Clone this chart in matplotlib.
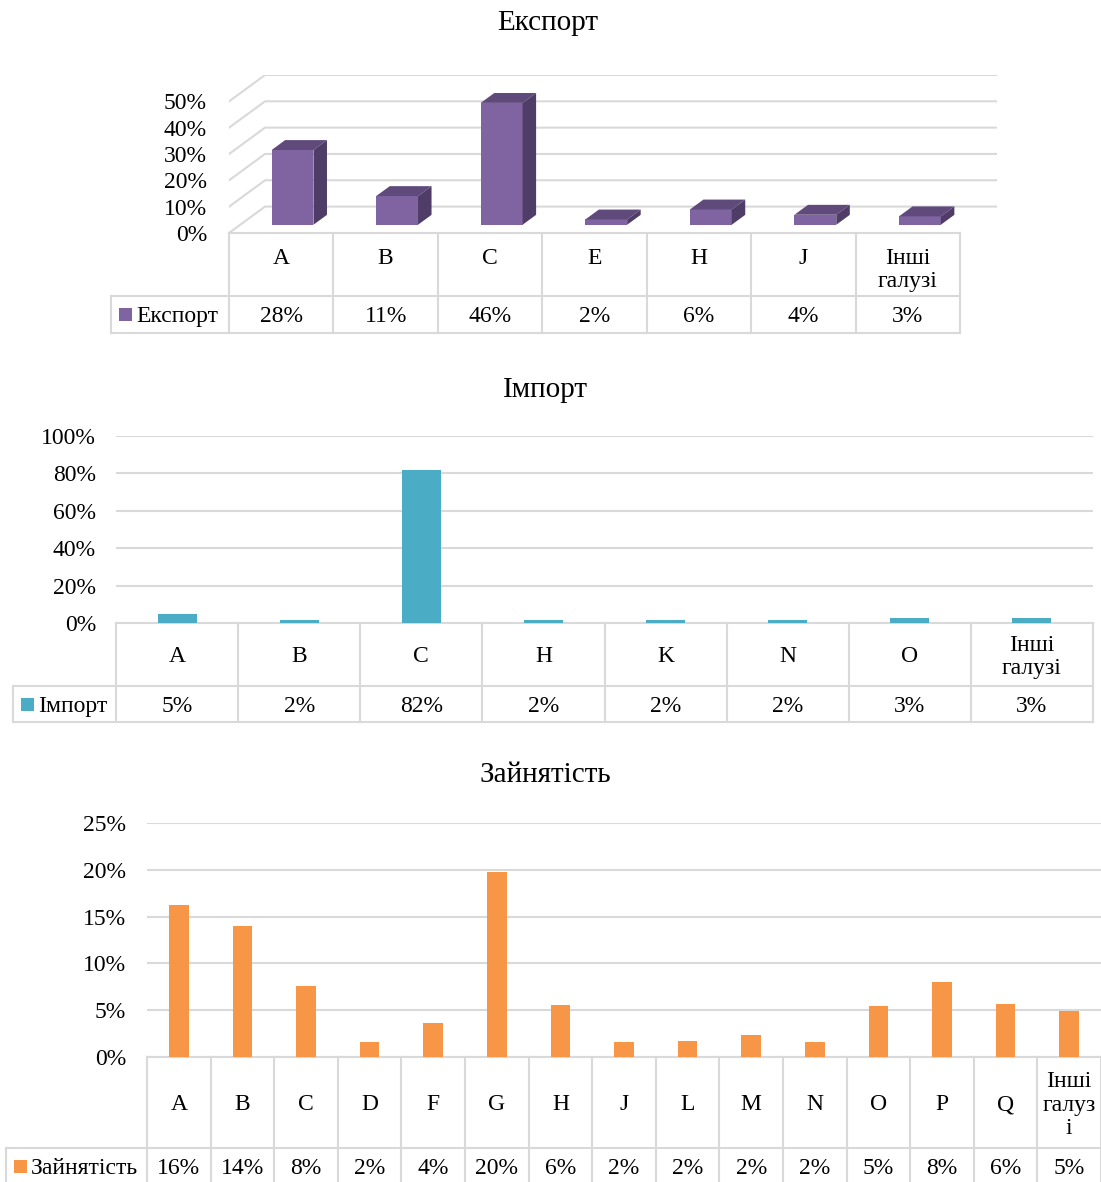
"""
Експорт / Імпорт / Зайнятість by category, with Excel-style data tables
"""
import matplotlib
matplotlib.use('Agg')
import matplotlib.pyplot as plt
from matplotlib.patches import Polygon, Rectangle

plt.rcParams['font.family'] = ['Liberation Serif', 'DejaVu Serif']

# data
exp_cats = ['A', 'B', 'C', 'E', 'H', 'J', 'Інші\nгалузі']
exp_vals = [0.284, 0.109, 0.463, 0.020, 0.058, 0.038, 0.032]

imp_cats = ['A', 'B', 'C', 'H', 'K', 'N', 'O', 'Інші\nгалузі']
imp_vals = [0.047, 0.016, 0.820, 0.016, 0.016, 0.016, 0.027, 0.027]

emp_cats = ['A', 'B', 'C', 'D', 'F', 'G', 'H', 'J', 'L', 'M', 'N', 'O', 'P', 'Q',
            'Інші\nгалуз\nі']
emp_vals = [0.162, 0.140, 0.076, 0.016, 0.036, 0.198, 0.056, 0.016, 0.017, 0.023,
            0.016, 0.054, 0.080, 0.057, 0.049]

exp_ticks = [0, 0.1, 0.2, 0.3, 0.4, 0.5]
imp_ticks = [0, 0.2, 0.4, 0.6, 0.8, 1.0]
emp_ticks = [0, 0.05, 0.10, 0.15, 0.20, 0.25]

W, H = 1101, 1182
GRID = '#d9d9d9'
FS = 17
TFS = 21
DOWN = 2.5  # small vertical nudge (px) for centred text

fig = plt.figure(figsize=(W / 100, H / 100), dpi=100)


def add_ax(left, top, right, bottom):
    return fig.add_axes([left / W, 1 - bottom / H, (right - left) / W, (bottom - top) / H])


def pct(v):
    return f'{v:.0%}'


def draw_table(ax, box, tab_right, cats, vals, name, color, leg_left, h1, h2, top_align=False):
    left, top, right, bottom = box
    aw, ah = right - left, bottom - top
    n = len(cats)
    cw = (tab_right - left) / n

    def fx(px):
        return (px - left) / aw

    def fy(py):
        return (bottom - py) / ah

    kw = dict(transform=ax.transAxes, clip_on=False, color=GRID, lw=1.5, zorder=1)
    y0, y1, y2 = bottom, bottom + h1, bottom + h1 + h2
    ax.plot([fx(left), fx(tab_right)], [fy(y0)] * 2, **kw)
    ax.plot([fx(leg_left), fx(tab_right)], [fy(y1)] * 2, **kw)
    ax.plot([fx(leg_left), fx(tab_right)], [fy(y2)] * 2, **kw)
    ax.plot([fx(leg_left)] * 2, [fy(y1), fy(y2)], **kw)
    for i in range(n + 1):
        ax.plot([fx(left + i * cw)] * 2, [fy(y0), fy(y2)], **kw)

    for i, (c, v) in enumerate(zip(cats, vals)):
        xc = fx(left + (i + 0.5) * cw)
        if top_align:
            ax.text(xc, fy(y0 + 15), c, transform=ax.transAxes, ha='center', va='top',
                    fontsize=FS, linespacing=1.15)
        else:
            ax.text(xc, fy(y0 + h1 / 2 + DOWN), c, transform=ax.transAxes, ha='center',
                    va='center', fontsize=FS, linespacing=1.15)
        ax.text(xc, fy(y1 + h2 / 2 + DOWN), pct(v), transform=ax.transAxes, ha='center',
                va='center', fontsize=FS)

    # legend key
    ym = y1 + h2 / 2
    ax.add_patch(Rectangle((fx(leg_left + 8), fy(ym + 6.5)), 13 / aw, 13 / ah,
                           transform=ax.transAxes, clip_on=False, color=color, lw=0))
    ax.text(fx(leg_left + 25), fy(ym + DOWN), name, transform=ax.transAxes, ha='left',
            va='center', fontsize=FS)


def style_axes(ax, pad_px):
    for s in ax.spines.values():
        s.set_visible(False)
    ax.tick_params(axis='both', length=0, labelsize=FS, pad=pad_px * 0.72)
    ax.set_xticks([])


def title(x, y, s):
    fig.text(x / W, 1 - (y + DOWN) / H, s, ha='center', va='center', fontsize=TFS)


# ---------------- Експорт (pseudo 3D) ----------------
box1 = (229, 75, 997, 233)
ax1 = add_ax(*box1)
n1 = len(exp_cats)
cw1 = (960 - 229) / n1
DX = 36 / cw1            # depth shift, category units
DY = 26.3 / 262          # depth shift, value units
d0, d1 = 0.3125, 0.6875  # bar depth (front/back)
ax1.set_xlim(0, n1 + DX)
ax1.set_ylim(0, 0.5 + DY)

for v in exp_ticks:
    ax1.plot([0, DX, n1 + DX], [v, v + DY, v + DY], color=GRID, lw=1.5, zorder=0)

purple, purple_top, purple_side = '#8064a2', '#604a7b', '#4f3d68'
bw = 0.4
xs = [i + 0.5 - bw / 2 + d0 * DX for i in range(n1)]
ax1.bar(xs, exp_vals, width=bw, bottom=d0 * DY, align='edge', color=purple, zorder=3)
for x, v in zip(xs, exp_vals):
    xl, xr = x, x + bw
    top = v + d0 * DY
    sh_x, sh_y = (d1 - d0) * DX, (d1 - d0) * DY
    ax1.add_patch(Polygon([(xl, top), (xr, top), (xr + sh_x, top + sh_y), (xl + sh_x, top + sh_y)],
                          closed=True, color=purple_top, lw=0, zorder=3))
    ax1.add_patch(Polygon([(xr, d0 * DY), (xr + sh_x, d0 * DY + sh_y), (xr + sh_x, top + sh_y), (xr, top)],
                          closed=True, color=purple_side, lw=0, zorder=3))

ax1.set_yticks(exp_ticks)
ax1.set_yticklabels([pct(t) for t in exp_ticks])
style_axes(ax1, 22)
draw_table(ax1, box1, 960, exp_cats, exp_vals, 'Експорт', purple, 111, 63, 37, top_align=True)
title(548, 20, 'Експорт')

# ---------------- Імпорт ----------------
box2 = (116, 436, 1093, 623)
ax2 = add_ax(*box2)
n2 = len(imp_cats)
ax2.set_xlim(0, n2)
ax2.set_ylim(0, 1.0)
ax2.set_yticks(imp_ticks)
ax2.set_yticklabels([pct(t) for t in imp_ticks])
ax2.yaxis.grid(True, color=GRID, lw=1.5)
ax2.set_axisbelow(True)
ax2.bar([i + 0.5 for i in range(n2)], imp_vals, width=0.32, color='#4bacc6', zorder=3)
style_axes(ax2, 20)
draw_table(ax2, box2, 1093, imp_cats, imp_vals, 'Імпорт', '#4bacc6', 13, 63, 36)
title(545, 388, 'Імпорт')

# ---------------- Зайнятість ----------------
box3 = (147, 823, 1101, 1057)
ax3 = add_ax(*box3)
n3 = len(emp_cats)
ax3.set_xlim(0, n3)
ax3.set_ylim(0, 0.25)
ax3.set_yticks(emp_ticks)
ax3.set_yticklabels([pct(t) for t in emp_ticks])
ax3.yaxis.grid(True, color=GRID, lw=1.5)
ax3.set_axisbelow(True)
ax3.bar([i + 0.5 for i in range(n3)], emp_vals, width=0.31, color='#f79646', zorder=3)
style_axes(ax3, 21)
draw_table(ax3, box3, 1101, emp_cats, emp_vals, 'Зайнятість', '#f79646', 6, 91, 37)
title(545, 773, 'Зайнятість')

fig.savefig('out.png', dpi=100)
